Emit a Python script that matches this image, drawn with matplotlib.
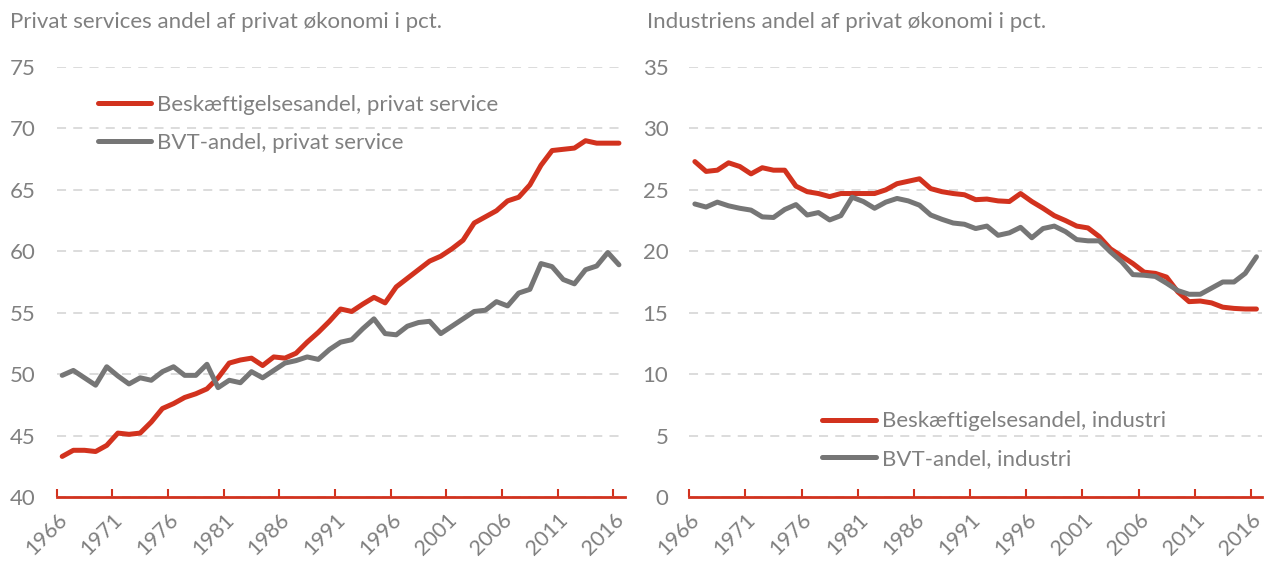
import matplotlib
matplotlib.use("Agg")
import matplotlib.pyplot as plt
import numpy as np

# data, 1966-2016
years = np.arange(1966, 2017)

service_emp = [43.3, 43.8, 43.8, 43.7, 44.2, 45.2, 45.1, 45.2, 46.1, 47.2,
               47.6, 48.1, 48.4, 48.8, 49.7, 50.9, 51.15, 51.3, 50.7, 51.4,
               51.3, 51.7, 52.6, 53.4, 54.3, 55.3, 55.1, 55.7, 56.25, 55.8,
               57.1, 57.8, 58.5, 59.2, 59.6, 60.2, 60.9, 62.3, 62.8, 63.3,
               64.1, 64.4, 65.4, 67.0, 68.2, 68.3, 68.4, 69.0, 68.8, 68.8, 68.8]
service_bvt = [49.9, 50.3, 49.7, 49.1, 50.6, 49.85, 49.2, 49.7, 49.5, 50.2,
               50.6, 49.9, 49.9, 50.8, 48.9, 49.5, 49.3, 50.2, 49.7, 50.3,
               50.9, 51.1, 51.4, 51.2, 52.0, 52.6, 52.8, 53.7, 54.5, 53.3,
               53.2, 53.9, 54.2, 54.3, 53.3, 53.9, 54.5, 55.1, 55.2, 55.9,
               55.55, 56.6, 56.9, 59.0, 58.75, 57.7, 57.35, 58.5, 58.8, 59.9, 58.9]

industry_emp = [27.3, 26.5, 26.6, 27.2, 26.9, 26.3, 26.8, 26.6, 26.6, 25.3,
                24.85, 24.7, 24.45, 24.7, 24.7, 24.7, 24.7, 25.0, 25.5, 25.7,
                25.9, 25.1, 24.85, 24.7, 24.6, 24.2, 24.25, 24.1, 24.05, 24.7,
                24.05, 23.5, 22.9, 22.5, 22.05, 21.9, 21.2, 20.2, 19.6, 19.0,
                18.3, 18.2, 17.9, 16.7, 15.9, 15.95, 15.8, 15.45, 15.35, 15.3, 15.3]
industry_bvt = [23.85, 23.6, 24.0, 23.7, 23.5, 23.35, 22.8, 22.75, 23.4, 23.8,
                22.95, 23.15, 22.55, 22.9, 24.4, 24.05, 23.5, 24.0, 24.3, 24.1,
                23.75, 22.95, 22.6, 22.3, 22.2, 21.85, 22.05, 21.3, 21.5, 21.95,
                21.1, 21.85, 22.05, 21.6, 20.95, 20.85, 20.85, 19.95, 19.15, 18.1,
                18.05, 17.95, 17.4, 16.8, 16.5, 16.5, 17.0, 17.5, 17.5, 18.2, 19.55]

tick_years = list(range(1966, 2017, 5))

RED = "#D2321E"
GREY = "#767676"
TXT = "#808080"

plt.rcParams['font.family'] = ['Lato', 'DejaVu Sans']

fig = plt.figure(figsize=(12.67, 5.62), dpi=100)
ax1 = fig.add_axes([0.0447, 0.1157, 0.4482, 0.7651])
ax2 = fig.add_axes([0.5440, 0.1157, 0.4521, 0.7651])


def style(ax, ylim, yticks):
    ax.set_xlim(1966, 2017)
    ax.set_ylim(*ylim)
    ax.set_yticks(yticks)
    ax.set_xticks(tick_years)
    ax.set_xticklabels([str(y) for y in tick_years], rotation=45,
                       ha='right', rotation_mode='anchor')
    for s in ['top', 'right', 'left']:
        ax.spines[s].set_visible(False)
    ax.spines['bottom'].set_color(RED)
    ax.spines['bottom'].set_linewidth(2)
    ax.tick_params(axis='x', direction='in', length=6, width=1.5, color=RED,
                   labelcolor=TXT, labelsize=15.5, pad=9)
    ax.tick_params(axis='y', length=0, labelcolor=TXT, labelsize=16, pad=15)
    ax.grid(axis='y', color='#d9d9d9', linestyle=(0, (5, 4)), linewidth=1.3)
    ax.set_axisbelow(True)


legend_kw = dict(frameon=False, fontsize=16, handlelength=2.4,
                 handletextpad=0.27, labelspacing=0.8, borderpad=0,
                 borderaxespad=0)

# left panel
style(ax1, (40, 75), range(40, 80, 5))
ax1.plot(years + 0.5, service_emp, color=RED, lw=3.6, solid_capstyle='round',
         label='Beskæftigelsesandel, privat service')
ax1.plot(years + 0.5, service_bvt, color=GREY, lw=3.6, solid_capstyle='round',
         label='BVT-andel, privat service')
leg1 = ax1.legend(loc='upper left', bbox_to_anchor=(0.077, 0.831),
                  bbox_transform=fig.transFigure, **legend_kw)
for t in leg1.get_texts():
    t.set_color(TXT)
fig.text(0.008, 0.961, 'Privat services andel af privat økonomi i pct.',
         color=TXT, fontsize=16, va='center', ha='left')

# right panel
style(ax2, (0, 35), range(0, 40, 5))
ax2.plot(years + 0.5, industry_emp, color=RED, lw=3.6, solid_capstyle='round',
         label='Beskæftigelsesandel, industri')
ax2.plot(years + 0.5, industry_bvt, color=GREY, lw=3.6, solid_capstyle='round',
         label='BVT-andel, industri')
leg2 = ax2.legend(loc='upper left', bbox_to_anchor=(0.649, 0.268),
                  bbox_transform=fig.transFigure, **legend_kw)
for t in leg2.get_texts():
    t.set_color(TXT)
fig.text(0.511, 0.961, 'Industriens andel af privat økonomi i pct.',
         color=TXT, fontsize=16, va='center', ha='left')

fig.savefig('out.png', dpi=100)
